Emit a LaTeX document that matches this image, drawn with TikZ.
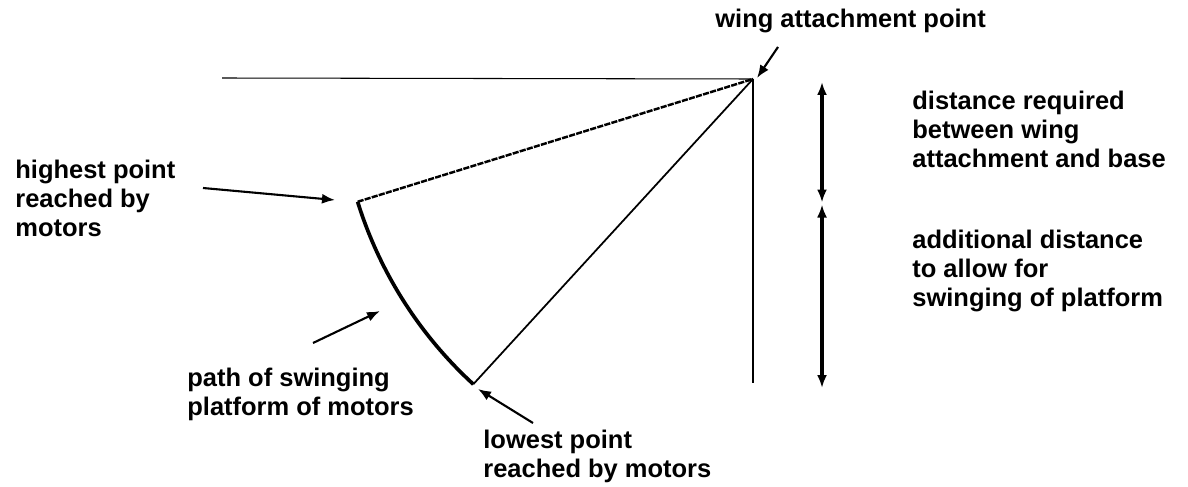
\documentclass[tikz,border=0pt]{standalone}
\usepackage{fontspec}
\setmainfont{Liberation Sans}
\usetikzlibrary{arrows.meta,calc}

\begin{document}
\begin{tikzpicture}[>=Latex,
  lbl/.style={font=\bfseries\fontsize{14.5}{16.5}\selectfont, align=left, anchor=base west, inner sep=0pt},
  ptr/.style={-{Latex[length=2.6mm,width=2mm]}, line width=1.2pt},
  span/.style={{Latex[length=2.6mm,width=2mm]}-{Latex[length=2.6mm,width=2mm]}, line width=1.8pt}]
\useasboundingbox (0,0) rectangle (23.76,9.72);
% swing geometry
\coordinate (wing) at (15.06,8.14);
\coordinate (high) at ($(wing)+(197.25:8.28)$);
\coordinate (low) at ($(wing)+(227.5:8.28)$);
\coordinate (base) at (15.06,2.06);
\coordinate (left) at (4.44,8.16);
\draw[line width=0.6pt] (left) -- (wing);
\draw[line width=0.8pt] (wing) -- (base);
\draw[line width=1.4pt, dash pattern=on 3.5pt off 0.7pt] (high) -- (wing);
\draw[line width=1pt] (wing) -- (low);
\draw[line width=2.1pt] (high) arc[start angle=197.25, end angle=227.5, radius=8.28];
% labels (base = baseline of last line)
\node[lbl] (tWing) at (14.30,9.16) {wing attachment point};
\node[lbl] (tHigh) at (0.30,5.00) {highest point\\reached by\\motors};
\node[lbl] (tPath) at (3.74,1.42) {path of swinging\\platform of motors};
\node[lbl] (tLow) at (9.66,0.18) {lowest point\\reached by motors};
\node[lbl] (tReq) at (18.24,6.38) {distance required\\between wing\\attachment and base};
\node[lbl] (tAdd) at (18.24,3.60) {additional distance\\to allow for\\swinging of platform};
% pointers
\coordinate (pW) at (15.56,8.78);
\coordinate (qW) at (15.14,8.16);
\coordinate (pH) at (4.06,5.96);
\coordinate (qH) at (6.70,5.72);
\coordinate (pP) at (6.26,2.86);
\coordinate (qP) at (7.60,3.50);
\coordinate (pL) at (10.66,1.26);
\coordinate (qL) at (9.56,1.94);
\draw[ptr] (pW) -- (qW);
\draw[ptr] (pH) -- (qH);
\draw[ptr] (pP) -- (qP);
\draw[ptr] (pL) -- (qL);
% distances
\coordinate (dTop) at (16.44,8.08);
\coordinate (dMid) at (16.44,5.67);
\coordinate (dMid2) at (16.44,5.63);
\coordinate (dBot) at (16.44,1.96);
\draw[span] (dTop) -- (dMid);
\draw[span] (dMid2) -- (dBot);
\end{tikzpicture}
\end{document}
